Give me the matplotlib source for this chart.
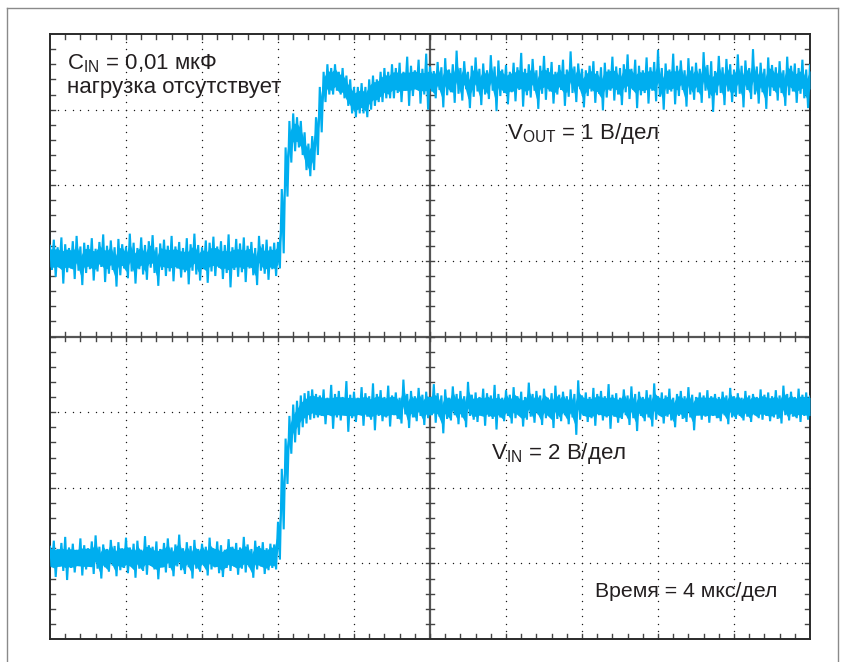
import numpy as np
import matplotlib
matplotlib.use("Agg")
import matplotlib.pyplot as plt
from matplotlib.lines import Line2D

plt.rcParams['font.family'] = ['Liberation Sans', 'DejaVu Sans']
plt.rcParams['mathtext.fontset'] = 'custom'
plt.rcParams['mathtext.rm'] = 'Liberation Sans'

# ---------------------------
# data: trace envelopes, in screen divisions (10 x 8 grid), sampled every 0.05 div
# ---------------------------
time_div = np.arange(201) * 0.05

# V_OUT (1 V/div): top / bottom edge of the noisy trace
vout_hi = [
    5.20, 5.28, 5.18, 5.31, 5.22, 5.17, 5.26, 5.33, 5.19, 5.24,
    5.21, 5.30, 5.16, 5.25, 5.35, 5.20, 5.27, 5.18, 5.29, 5.22,
    5.19, 5.36, 5.24, 5.17, 5.31, 5.21, 5.26, 5.34, 5.18, 5.23,
    5.28, 5.20, 5.33, 5.19, 5.25, 5.17, 5.30, 5.22, 5.36, 5.21,
    5.18, 5.27, 5.24, 5.32, 5.19, 5.26, 5.21, 5.35, 5.18, 5.29,
    5.23, 5.31, 5.20, 5.25, 5.17, 5.33, 5.22, 5.28, 5.19, 5.24,
    5.25, 5.95, 6.50, 6.85, 6.95, 6.90, 6.85, 6.70, 6.55, 6.65,
    6.90, 7.30, 7.50, 7.60, 7.55, 7.60, 7.50, 7.55, 7.45, 7.40,
    7.30, 7.30, 7.35, 7.30, 7.40, 7.45, 7.40, 7.50, 7.55, 7.50,
    7.60,
    7.55, 7.62, 7.50, 7.70, 7.58, 7.52, 7.66, 7.54, 7.74, 7.57,
    7.51, 7.63, 7.56, 7.68, 7.53, 7.60, 7.78, 7.55, 7.64, 7.50,
    7.58, 7.69, 7.54, 7.61, 7.52, 7.72, 7.57, 7.65, 7.53, 7.59,
    7.50, 7.62, 7.56, 7.75, 7.54, 7.60, 7.67, 7.52, 7.58, 7.71,
    7.55, 7.63, 7.50, 7.59, 7.66, 7.53, 7.77, 7.57, 7.61, 7.54,
    7.52, 7.58, 7.64, 7.51, 7.56, 7.62, 7.53, 7.70, 7.57, 7.55,
    7.60, 7.73, 7.54, 7.66, 7.58, 7.52, 7.69, 7.56, 7.63, 7.79,
    7.55, 7.61, 7.53, 7.74, 7.58, 7.65, 7.52, 7.68, 7.57, 7.62,
    7.54, 7.76, 7.59, 7.64, 7.51, 7.71, 7.56, 7.67, 7.60, 7.53,
    7.73, 7.58, 7.65, 7.55, 7.80, 7.57, 7.62, 7.54, 7.69, 7.59,
    7.56, 7.64, 7.52, 7.70, 7.58, 7.61, 7.55, 7.66, 7.53, 7.60,
]
vout_lo = [
    4.88, 4.79, 4.91, 4.70, 4.85, 4.90, 4.76, 4.87, 4.68, 4.84,
    4.89, 4.74, 4.86, 4.92, 4.72, 4.83, 4.88, 4.66, 4.81, 4.90,
    4.77, 4.86, 4.70, 4.89, 4.82, 4.75, 4.91, 4.84, 4.67, 4.88,
    4.80, 4.86, 4.73, 4.90, 4.78, 4.85, 4.69, 4.87, 4.82, 4.74,
    4.89, 4.71, 4.86, 4.80, 4.91, 4.76, 4.84, 4.65, 4.88, 4.79,
    4.85, 4.72, 4.90, 4.81, 4.68, 4.87, 4.83, 4.75, 4.89, 4.80,
    4.90, 5.10, 5.85, 6.30, 6.45, 6.50, 6.40, 6.20, 6.12, 6.20,
    6.40, 6.70, 7.10, 7.20, 7.20, 7.25, 7.20, 7.15, 7.05, 6.95,
    6.90, 6.95, 6.95, 6.90, 7.00, 7.05, 7.10, 7.10, 7.15, 7.15,
    7.15,
    7.22, 7.10, 7.25, 7.05, 7.18, 7.27, 7.08, 7.20, 7.00, 7.24,
    7.15, 7.26, 7.03, 7.19, 7.23, 7.09, 7.21, 7.12, 7.27, 7.02,
    7.17, 7.24, 7.06, 7.20, 7.14, 7.25, 6.98, 7.18, 7.22, 7.07,
    7.23, 7.11, 7.26, 7.04, 7.19, 7.16, 7.25, 7.01, 7.21, 7.13,
    7.24, 7.08, 7.20, 7.26, 7.05, 7.17, 7.22, 7.10, 7.27, 7.03,
    7.18, 7.24, 7.09, 7.21, 6.99, 7.16, 7.25, 7.12, 7.20, 7.06,
    7.23, 7.14, 7.26, 7.02, 7.19, 7.22, 7.08, 7.25, 7.11, 7.17,
    7.00, 7.21, 7.24, 7.07, 7.18, 7.26, 7.04, 7.20, 7.13, 7.23,
    7.09, 7.25, 7.15, 6.97, 7.19, 7.22, 7.06, 7.24, 7.10, 7.17,
    7.21, 7.03, 7.26, 7.14, 7.20, 7.08, 7.23, 7.01, 7.18, 7.25,
    7.12, 7.22, 7.05, 7.19, 7.24, 7.09, 7.21, 7.15, 7.02, 7.20,
]

# V_IN (2 V/div)
vin_hi = [
    1.22, 1.30, 1.19, 1.27, 1.35, 1.21, 1.26, 1.18, 1.33, 1.24,
    1.20, 1.29, 1.37, 1.22, 1.25, 1.19, 1.31, 1.23, 1.28, 1.20,
    1.34, 1.21, 1.26, 1.30, 1.18, 1.36, 1.24, 1.22, 1.29, 1.19,
    1.27, 1.33, 1.21, 1.25, 1.38, 1.20, 1.28, 1.23, 1.31, 1.19,
    1.26, 1.22, 1.34, 1.20, 1.29, 1.24, 1.18, 1.32, 1.22, 1.27,
    1.21, 1.35, 1.25, 1.19, 1.30, 1.23, 1.28, 1.20, 1.26,
    1.25, 1.55, 2.25, 2.65, 2.95, 3.10, 3.15, 3.22, 3.25, 3.28, 3.30, 3.24,
    3.22, 3.30, 3.19, 3.36, 3.24, 3.28, 3.20, 3.41, 3.23, 3.27,
    3.19, 3.33, 3.25, 3.21, 3.38, 3.24, 3.29, 3.20, 3.35, 3.22,
    3.26, 3.19, 3.43, 3.24, 3.28, 3.21, 3.32, 3.23, 3.27, 3.20,
    3.37, 3.25, 3.22, 3.30, 3.19, 3.34, 3.24, 3.28, 3.21, 3.40,
    3.23, 3.26, 3.20, 3.31, 3.25, 3.22, 3.36, 3.24, 3.19, 3.29,
    3.23, 3.33, 3.21, 3.27, 3.20, 3.39, 3.24, 3.28, 3.22, 3.31,
    3.19, 3.25, 3.35, 3.23, 3.27, 3.21, 3.30, 3.24, 3.42, 3.22,
    3.26, 3.20, 3.32, 3.24, 3.28, 3.21, 3.37, 3.23, 3.25, 3.19,
    3.30, 3.22, 3.34, 3.24, 3.27, 3.20, 3.29, 3.23, 3.38, 3.21,
    3.26, 3.22, 3.31, 3.19, 3.24, 3.28, 3.21, 3.33, 3.23, 3.20,
    3.26, 3.22, 3.29, 3.21, 3.24, 3.20, 3.27, 3.22, 3.32, 3.21,
    3.25, 3.19, 3.28, 3.22, 3.24, 3.20, 3.30, 3.23, 3.26, 3.21,
    3.29, 3.22, 3.35, 3.24, 3.27, 3.20, 3.31, 3.23, 3.26, 3.22,
]
vin_lo = [
    0.95, 0.82, 0.96, 0.90, 0.78, 0.94, 0.88, 0.97, 0.84, 0.92,
    0.96, 0.86, 0.93, 0.80, 0.95, 0.89, 0.97, 0.83, 0.91, 0.94,
    0.87, 0.96, 0.81, 0.93, 0.90, 0.85, 0.97, 0.92, 0.79, 0.95,
    0.88, 0.94, 0.83, 0.96, 0.91, 0.86, 0.95, 0.80, 0.93, 0.89,
    0.97, 0.84, 0.92, 0.95, 0.87, 0.82, 0.94, 0.90, 0.96, 0.85,
    0.93, 0.88, 0.95, 0.81, 0.92, 0.96, 0.86, 0.91, 0.94,
    0.92, 1.05, 1.45, 2.05, 2.45, 2.60, 2.70, 2.80, 2.85, 2.90, 2.92, 2.93,
    2.95, 2.84, 2.97, 2.78, 2.93, 2.89, 2.96, 2.74, 2.92, 2.87,
    2.97, 2.82, 2.94, 2.90, 2.76, 2.95, 2.88, 2.93, 2.81, 2.96,
    2.91, 2.85, 2.97, 2.79, 2.93, 2.88, 2.95, 2.83, 2.92, 2.96,
    2.86, 2.94, 2.72, 2.91, 2.89, 2.96, 2.84, 2.93, 2.80, 2.95,
    2.90, 2.87, 2.96, 2.82, 2.94, 2.91, 2.77, 2.93, 2.88, 2.95,
    2.85, 2.92, 2.96, 2.81, 2.90, 2.94, 2.86, 2.97, 2.83, 2.92,
    2.95, 2.79, 2.91, 2.88, 2.96, 2.84, 2.93, 2.70, 2.90, 2.95,
    2.87, 2.92, 2.82, 2.96, 2.89, 2.93, 2.78, 2.94, 2.86, 2.91,
    2.96, 2.83, 2.92, 2.75, 2.95, 2.88, 2.93, 2.81, 2.90, 2.96,
    2.85, 2.94, 2.89, 2.80, 2.95, 2.91, 2.87, 2.93, 2.76, 2.96,
    2.90, 2.94, 2.86, 2.95, 2.92, 2.88, 2.96, 2.84, 2.93, 2.91,
    2.95, 2.89, 2.94, 2.87, 2.96, 2.92, 2.90, 2.95, 2.88, 2.93,
    2.91, 2.85, 2.96, 2.89, 2.94, 2.92, 2.87, 2.95, 2.90, 2.93,
]

for arr in (vout_hi, vout_lo, vin_hi, vin_lo):
    assert len(arr) == len(time_div)

TRACE = '#00aeef'
INK = '#231f20'
GRID = '#1a1a1a'

W, H = 845, 662
fig = plt.figure(figsize=(W / 100, H / 100), dpi=100)
# screen area in pixels: x 50..810, y 34..639
ax = fig.add_axes([50 / W, (H - 639) / H, 760 / W, 605 / H])
ax.set_xlim(0, 10)
ax.set_ylim(0, 8)
ax.set_xticks([])
ax.set_yticks([])
for s in ax.spines.values():
    s.set_linewidth(1.4)
    s.set_color('#2a2a2a')

# outer frame of the screenshot
frame_kw = dict(color='#8a8a8a', lw=1.0, transform=None)
for (x0, y0, x1, y1) in [(7, 8, 838, 8), (7, 8, 7, 670), (838, 8, 838, 670)]:
    fig.add_artist(Line2D([x0, x1], [H - y0, H - y1], **frame_kw))

# dotted graticule
dots = np.arange(0, 10.001, 0.1)
for gx in range(1, 10):
    if gx == 5:
        continue
    yy = np.arange(0, 8.001, 0.1)
    ax.plot(np.full_like(yy, gx), yy, ls='none', marker='o', ms=1.0, mew=0,
            color=GRID, zorder=1)
for gy in range(1, 8):
    if gy == 4:
        continue
    ax.plot(dots, np.full_like(dots, gy), ls='none', marker='o', ms=1.0, mew=0,
            color=GRID, zorder=1)

# centre cross
ax.axvline(5, color='#555555', lw=1.6, zorder=1)
ax.axhline(4, color='#555555', lw=1.6, zorder=1)

# minor ticks every 0.2 div: on the centre lines (both sides) and along the border (inward)
tx = np.arange(0.2, 10, 0.2)
ty = np.arange(0.2, 8, 0.2)
dx = 0.055   # half tick length in x-divisions
dy = 0.055
tk = dict(color='#444444', lw=1.0, zorder=1)
for x in tx:
    ax.plot([x, x], [4 - dy, 4 + dy], **tk)
    ax.plot([x, x], [0, dy * 1.3], **tk)
    ax.plot([x, x], [8 - dy * 1.3, 8], **tk)
for y in ty:
    ax.plot([5 - dx, 5 + dx], [y, y], **tk)
    ax.plot([0, dx * 1.3], [y, y], **tk)
    ax.plot([10 - dx * 1.3, 10], [y, y], **tk)


def draw_trace(hi, lo):
    hi = np.asarray(hi)
    lo = np.asarray(lo)
    xs = np.empty(2 * len(time_div))
    ys = np.empty_like(xs)
    xs[0::2] = time_div
    xs[1::2] = time_div + 0.025
    ys[0::2] = hi
    ys[1::2] = lo
    mid = (hi + lo) / 2
    ax.fill_between(time_div, np.maximum(lo, mid - 0.12), np.minimum(hi, mid + 0.12),
                    color=TRACE, lw=0, zorder=3)
    ax.plot(xs, ys, color=TRACE, lw=1.5, zorder=3, solid_joinstyle='miter')


draw_trace(vout_hi, vout_lo)
draw_trace(vin_hi, vin_lo)

# labels
fs = 16
def label(x, y, s, size=fs):
    fig.text(x / W, 1 - y / H, s, fontsize=size, color=INK, va='baseline', ha='left',
             zorder=5)

label(67, 69, r'C$_{\mathregular{IN}}$ = 0,01 мкФ')
label(67, 93, 'нагрузка отсутствует')
label(507, 139, r'V$_{\mathregular{OUT}}$ = 1 В/дел')
label(491, 459, r'V$_{\mathregular{IN}}$ = 2 В/дел')
label(595, 597, 'Время = 4 мкс/дел', size=15.3)

fig.savefig('out.png', dpi=100, facecolor='white')
